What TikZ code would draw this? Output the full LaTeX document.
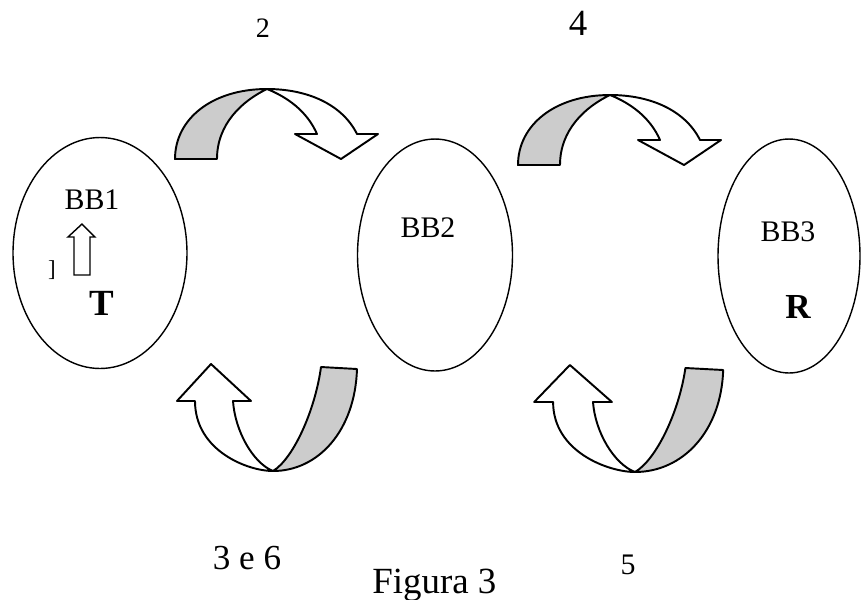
\documentclass[tikz,border=0pt]{standalone}
\usepackage{fontspec}
\setmainfont{Liberation Serif}
\usetikzlibrary{shapes.geometric}

\begin{document}
\begin{tikzpicture}[x=0.02cm, y=-0.02cm,
	bubble/.style={draw, ellipse, line width=0.8pt, inner sep=0pt},
	band/.style={draw, line width=1.1pt, line join=round},
	tag/.style={inner sep=0pt},
	% curved block arrow going over the top, pic origin = its highest point
	pics/overturn/.style={code={
		\filldraw[band, fill=gray!40] (-92,70) .. controls (-92,30) and (-55,0) .. (0,0)
		  .. controls (-25,12) and (-50,35) .. (-50,70) -- cycle;
		\filldraw[band, fill=white] (0,0) .. controls (40,0) and (75,15) .. (90,45)
		  -- (111,45) -- (74,70) -- (28,45) -- (50,45)
		  .. controls (40,22) and (20,8) .. (0,0) -- cycle;
	}},
	% curved block arrow going under, pic origin = its lowest point
	pics/underturn/.style={code={
		\filldraw[band, fill=gray!40] (0,0) .. controls (20,-12) and (42,-60) .. (48,-104)
		  -- (84,-102) .. controls (82,-40) and (45,0) .. (0,0) -- cycle;
		\filldraw[band, fill=white] (0,0) .. controls (-25,0) and (-78,-20) .. (-78,-70)
		  -- (-96,-70) -- (-62,-107) -- (-22,-70) -- (-40,-70)
		  .. controls (-38,-40) and (-20,-8) .. (0,0) -- cycle;
	}}]

\useasboundingbox (0,0) rectangle (861,599);

% the three blocks
\node[bubble, minimum width=3.48cm, minimum height=4.62cm] (bbone) at (100,253) {};
\node[bubble, minimum width=3.1cm, minimum height=4.64cm] (bbtwo) at (435,255) {};
\node[bubble, minimum width=2.84cm, minimum height=4.68cm] (bbthree) at (789,256) {};

\node[tag, font=\fontsize{17}{20}\selectfont] (nameone) at (92,200) {BB1};
\node[tag, font=\fontsize{17}{20}\selectfont] (nametwo) at (428,228) {BB2};
\node[tag, font=\fontsize{17}{20}\selectfont] (namethree) at (788,232) {BB3};

\node[tag, font=\fontsize{21}{24}\selectfont\bfseries] (tee) at (102,303) {T};
\node[tag, font=\fontsize{20}{24}\selectfont\bfseries] (arr) at (798,307) {R};
\node[tag, font=\fontsize{13}{15}\selectfont] (brk) at (52,270) {]};

% small up arrow inside BB1
\draw[line width=0.8pt] (74,275) -- (74,237) -- (68,237) -- (82,224)
  -- (95,237) -- (90,237) -- (90,275) -- cycle;

% turning arrows between the blocks
\pic at (267,89) {overturn};
\pic at (610,95) {overturn};
\pic at (273,471) {underturn};
\pic[xscale=1.05] at (635,472) {underturn};

% step numbers and caption
\node[tag, font=\fontsize{16}{19}\selectfont] (steptwo) at (263,28) {2};
\node[tag, font=\fontsize{21}{24}\selectfont] (stepfour) at (578,23) {4};
\node[tag, font=\fontsize{20}{24}\selectfont] (stepthree) at (247,558) {3 e 6};
\node[tag, font=\fontsize{17}{20}\selectfont] (stepfive) at (628,565) {5};
\node[tag, anchor=base west, font=\fontsize{21}{24}\selectfont] (caption) at (372,593) {Figura 3};
\end{tikzpicture}
\end{document}
